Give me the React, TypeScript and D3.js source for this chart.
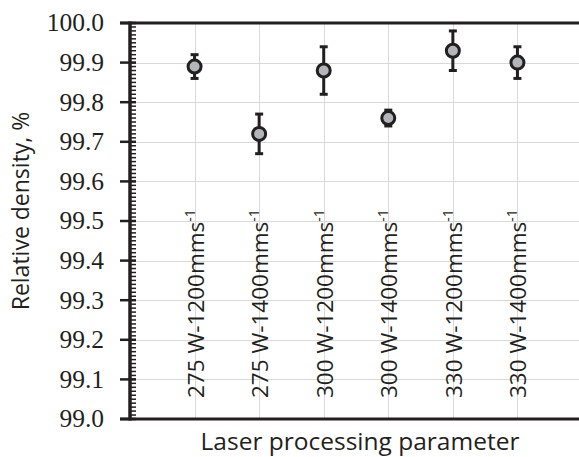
import React, { useRef, useEffect } from 'react';
import * as d3 from 'd3';

// laser parameters (power - scan speed)
const powers = ['275', '275', '300', '300', '330', '330'];
const speeds = ['1200', '1400', '1200', '1400', '1200', '1400'];
const density = [99.89, 99.72, 99.88, 99.76, 99.93, 99.9];
const errors = [0.03, 0.05, 0.06, 0.02, 0.05, 0.04];
const yTicks = [99.0, 99.1, 99.2, 99.3, 99.4, 99.5, 99.6, 99.7, 99.8, 99.9, 100.0];

const W = 579;
const H = 457;
const ink = '#231f20';

export default function App() {
  const ref = useRef<SVGSVGElement>(null);

  useEffect(() => {
    const svg = d3.select(ref.current);
    svg.selectAll('*').remove();

    const left = 130, top = 23, bottom = 419, right = 582;
    const cats = powers.map((p, i) => `${p} W-${speeds[i]}`);

    const x = d3.scalePoint<string>().domain(cats).range([left, right]).padding(1);
    const y = d3.scaleLinear().domain([99, 100]).range([bottom, top]);

    // grid
    const grid = svg.append('g').attr('stroke', '#d9d9d9').attr('stroke-width', 1);
    grid.selectAll('line.h')
      .data(yTicks)
      .enter()
      .append('line')
      .attr('x1', left).attr('x2', W)
      .attr('y1', d => Math.round(y(d)) + 0.5).attr('y2', d => Math.round(y(d)) + 0.5);
    grid.selectAll('line.v')
      .data(cats)
      .enter()
      .append('line')
      .attr('x1', d => Math.round(x(d)!) + 0.5).attr('x2', d => Math.round(x(d)!) + 0.5)
      .attr('y1', top).attr('y2', bottom);

    // category labels, rotated
    const labels = svg.append('g')
      .attr('font-family', '"Open Sans", sans-serif')
      .attr('font-size', 22.5)
      .attr('fill', ink);
    cats.forEach((c, i) => {
      const t = labels.append('text')
        .attr('transform', `translate(${x(c)! + 9},398) rotate(-90)`);
      t.append('tspan').text(`${powers[i]} W-${speeds[i]}mms`);
      t.append('tspan').attr('font-size', 14).attr('dy', -9).text('-1');
    });

    // minor ticks every 0.01 (inside)
    const minor = d3.range(0, 101).map(k => 99 + k / 100);
    svg.append('g')
      .selectAll('line')
      .data(minor)
      .enter()
      .append('line')
      .attr('x1', left).attr('x2', left + 6)
      .attr('y1', d => y(d)).attr('y2', d => y(d))
      .attr('stroke', ink).attr('stroke-width', 1.5);

    // major ticks (cross)
    svg.append('g')
      .selectAll('line')
      .data(yTicks)
      .enter()
      .append('line')
      .attr('x1', left - 10).attr('x2', left + 6)
      .attr('y1', d => y(d)).attr('y2', d => y(d))
      .attr('stroke', ink).attr('stroke-width', 2.5);

    // frame
    svg.append('line').attr('x1', left).attr('x2', left).attr('y1', top - 1.5).attr('y2', bottom + 1.5)
      .attr('stroke', ink).attr('stroke-width', 3.5);
    svg.append('line').attr('x1', left - 10).attr('x2', W).attr('y1', top).attr('y2', top)
      .attr('stroke', ink).attr('stroke-width', 3);
    svg.append('line').attr('x1', left - 10).attr('x2', W).attr('y1', bottom).attr('y2', bottom)
      .attr('stroke', ink).attr('stroke-width', 3);

    // y tick labels
    svg.append('g')
      .attr('font-family', '"Liberation Serif", serif')
      .attr('font-size', 25.5)
      .attr('fill', ink)
      .attr('text-anchor', 'end')
      .selectAll('text')
      .data(yTicks)
      .enter()
      .append('text')
      .attr('x', 104)
      .attr('y', d => y(d))
      .attr('dy', '0.33em')
      .text(d => d3.format('.1f')(d));

    // error bars
    const pts = svg.append('g').selectAll('g').data(density).enter().append('g');
    pts.append('line')
      .attr('x1', (d, i) => x(cats[i])!).attr('x2', (d, i) => x(cats[i])!)
      .attr('y1', (d, i) => y(d + errors[i])).attr('y2', (d, i) => y(d - errors[i]))
      .attr('stroke', ink).attr('stroke-width', 3);
    pts.append('line')
      .attr('x1', (d, i) => x(cats[i])! - 4).attr('x2', (d, i) => x(cats[i])! + 4)
      .attr('y1', (d, i) => y(d + errors[i])).attr('y2', (d, i) => y(d + errors[i]))
      .attr('stroke', ink).attr('stroke-width', 3);
    pts.append('line')
      .attr('x1', (d, i) => x(cats[i])! - 4).attr('x2', (d, i) => x(cats[i])! + 4)
      .attr('y1', (d, i) => y(d - errors[i])).attr('y2', (d, i) => y(d - errors[i]))
      .attr('stroke', ink).attr('stroke-width', 3);
    pts.append('circle')
      .attr('cx', (d, i) => x(cats[i])!)
      .attr('cy', d => y(d))
      .attr('r', 6.5)
      .attr('fill', '#b3b5b8')
      .attr('stroke', ink)
      .attr('stroke-width', 3);

    // axis titles
    svg.append('text')
      .attr('transform', 'translate(29,211) rotate(-90)')
      .attr('text-anchor', 'middle')
      .attr('font-family', '"Open Sans", sans-serif')
      .attr('font-size', 23)
      .attr('fill', ink)
      .text('Relative density, %');
    svg.append('text')
      .attr('x', 360)
      .attr('y', 450)
      .attr('text-anchor', 'middle')
      .attr('font-family', '"Open Sans", sans-serif')
      .attr('font-size', 24.5)
      .attr('fill', ink)
      .text('Laser processing parameter');
  }, []);

  return (
    <svg
      ref={ref}
      width={W}
      height={H}
      style={{ position: 'absolute', left: 0, top: 0, background: '#fff' }}
    />
  );
}
